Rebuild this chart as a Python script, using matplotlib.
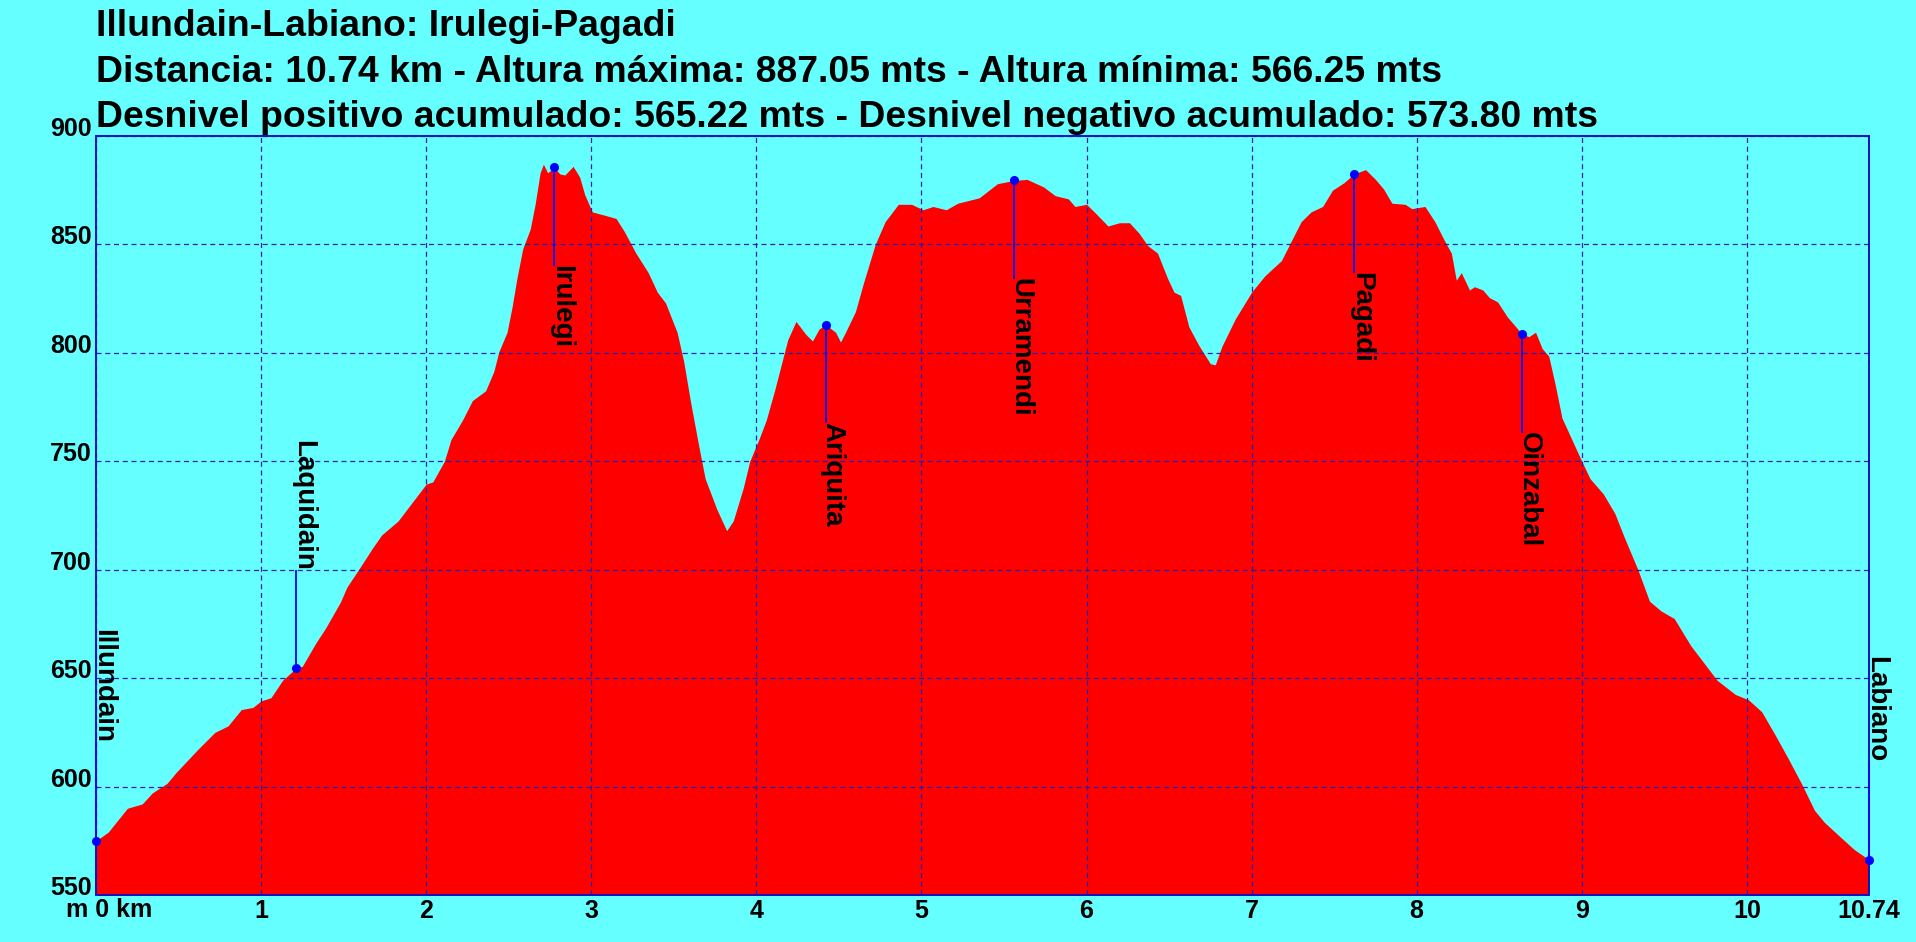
#!/usr/bin/env python3
"""Elevation profile: Illundain-Labiano, Irulegi-Pagadi."""

import matplotlib
matplotlib.use('Agg')
import matplotlib.pyplot as plt

# Track profile (km, metres)
distance_km = [
    0, 0.074, 0.19, 0.28, 0.34, 0.43, 0.485, 0.615, 0.72, 0.80, 0.88, 0.95,
    1.0, 1.06, 1.13, 1.21, 1.25, 1.33, 1.39, 1.48, 1.52, 1.59, 1.675, 1.73,
    1.83, 1.91, 2.0, 2.04, 2.11, 2.15, 2.22, 2.28, 2.36, 2.41, 2.44, 2.49,
    2.52, 2.55, 2.585, 2.63, 2.66, 2.69, 2.71, 2.736, 2.775, 2.81, 2.84, 2.89,
    2.93, 2.96, 3.006, 3.08, 3.15, 3.2, 3.27, 3.345, 3.40, 3.45, 3.52, 3.56,
    3.60, 3.65, 3.69, 3.76, 3.82, 3.86, 3.92, 3.96, 4.015, 4.06, 4.11, 4.19,
    4.24, 4.30, 4.34, 4.38, 4.42, 4.48, 4.51, 4.54, 4.60, 4.65, 4.72, 4.78,
    4.86, 4.94, 5.01, 5.07, 5.15, 5.22, 5.35, 5.46, 5.56, 5.64, 5.74, 5.81,
    5.89, 5.93, 6.0, 6.06, 6.13, 6.2, 6.26, 6.32, 6.37, 6.43, 6.49, 6.53,
    6.57, 6.62, 6.68, 6.75, 6.78, 6.82, 6.90, 7.0, 7.08, 7.18, 7.24, 7.30,
    7.36, 7.43, 7.49, 7.56, 7.62, 7.69, 7.75, 7.80, 7.85, 7.93, 7.97, 8.05,
    8.11, 8.17, 8.21, 8.24, 8.27, 8.32, 8.35, 8.40, 8.44, 8.49, 8.55, 8.64,
    8.68, 8.72, 8.76, 8.80, 8.84, 8.88, 8.94, 9.0, 9.05, 9.13, 9.20, 9.26,
    9.34, 9.41, 9.48, 9.56, 9.66, 9.74, 9.82, 9.93, 10.01, 10.09, 10.17,
    10.25, 10.33, 10.41, 10.47, 10.57, 10.65, 10.74,
]
elevation_m = [
    575, 579, 590, 592, 597, 601.5, 606.5, 617, 625, 628, 635.5, 636.5,
    639.5, 641, 649, 654.5, 655.5, 666, 673, 685, 692, 700, 710, 716,
    722.5, 730.5, 739.5, 740.5, 750, 760, 769, 778, 782.5, 791.5, 800.5, 809.5,
    821, 834.5, 848, 857, 868.5, 883, 887, 883, 885.5, 882.5, 882, 886,
    881, 873, 865, 863.5, 862, 856, 846, 837, 828, 823, 809.5, 796,
    778, 757.5, 742, 728, 718, 722.5, 737.5, 750, 760, 769, 782.5, 806,
    814.5, 808.5, 805.5, 811, 813, 809.5, 805, 809.5, 819, 832.5, 850, 860.5,
    868.5, 868.5, 866, 867.5, 866, 869, 871.5, 878, 879.5, 880, 876.5, 872.5,
    871, 867.5, 868.5, 864, 858.5, 860, 860, 855, 849.5, 846, 834.5, 828,
    826.5, 812, 803.5, 795, 794.5, 803, 815.5, 828, 835.5, 842.5, 851.5, 860.5,
    865, 867.5, 875, 878.5, 882.5, 884.5, 880, 875.5, 869, 868.5, 866.5, 867.5,
    860.5, 851.5, 846, 833.5, 837, 829, 830.5, 829, 825.5, 823.5, 816.5, 808.5,
    807.5, 809.5, 802, 798.5, 785, 770, 760, 750, 742, 735, 726, 714.5,
    700, 685.5, 681, 677.5, 665, 657, 649, 642.5, 640, 634.5, 624,
    613, 601.5, 589, 583.5, 576.5, 571, 566.25,
]

# Waypoints
wp_names = ['Illundain', 'Laquidain', 'Irulegi', 'Ariquita',
            'Urramendi', 'Pagadi', 'Oinzabal', 'Labiano']
wp_km = [0, 1.21, 2.775, 4.42, 5.56, 7.62, 8.64, 10.74]
wp_elev = [575, 654.5, 885.5, 813, 879.5, 882.5, 808.5, 566.25]

x_ticks = [0, 1, 2, 3, 4, 5, 6, 7, 8, 9, 10, 10.74]
x_labels = ['', '1', '2', '3', '4', '5', '6', '7', '8', '9', '10', '10.74']
y_ticks = [550, 600, 650, 700, 750, 800, 850, 900]

title_lines = [
    'Illundain-Labiano: Irulegi-Pagadi',
    'Distancia: 10.74 km - Altura máxima: 887.05 mts - Altura mínima: 566.25 mts',
    'Desnivel positivo acumulado: 565.22 mts - Desnivel negativo acumulado: 573.80 mts',
]

BG = '#66ffff'
BLUE = '#0000ff'
GRID = '#2020b0'

plt.rcParams['font.family'] = ['Liberation Sans', 'DejaVu Sans']
plt.rcParams['font.weight'] = 'bold'

W, H = 1916, 942
fig = plt.figure(figsize=(W / 100, H / 100), dpi=100, facecolor=BG)
ax = fig.add_axes([96 / W, 1 - 895 / H, (1869 - 96) / W, (895 - 136) / H])
ax.set_facecolor(BG)

ax.fill_between(distance_km, 550, elevation_m, color='#ff0000', linewidth=0, zorder=1)

ax.set_xlim(0, 10.74)
ax.set_ylim(550, 900)
ax.set_xticks(x_ticks)
ax.set_xticklabels(x_labels)
ax.set_yticks(y_ticks)
ax.tick_params(length=0, labelsize=18)
ax.tick_params(axis='x', pad=3)
ax.tick_params(axis='y', pad=3)
for lab in ax.get_yticklabels():
    lab.set_verticalalignment('baseline')
    lab.set_fontweight('bold')
for lab in ax.get_xticklabels():
    lab.set_fontweight('bold')

ax.set_axisbelow(False)
ax.grid(True, color=GRID, linewidth=0.9, linestyle=(0, (4, 3)), zorder=2)
for sp in ax.spines.values():
    sp.set_color('#1010c0')
    sp.set_linewidth(1.4)
    sp.set_zorder(4)

# units label under the origin
ax.annotate('m 0 km', xy=(0, 0), xycoords=('data', 'axes fraction'),
            xytext=(9.5, -2.5), textcoords='offset points',
            ha='center', va='top', fontsize=18, fontweight='bold')

# waypoints: marker, leader line and vertical name
offset = 45
for name, x, y in zip(wp_names, wp_km, wp_elev):
    if y < 725:
        y_end, ha = y + offset, 'right'
    else:
        y_end, ha = y - offset, 'left'
    ax.plot([x, x], [y, y_end], color=BLUE, linewidth=1.3, zorder=5, clip_on=False)
    ax.plot(x, y, 'o', color=BLUE, markersize=5.5, zorder=6, clip_on=False)
    ax.text(x, y_end, name, rotation=270, rotation_mode='anchor',
            ha=ha, va='baseline', fontsize=20, fontweight='bold', zorder=7)

baselines = [36, 82, 127]
for txt, yb in zip(title_lines, baselines):
    fig.text(96 / W, 1 - yb / H, txt, ha='left', va='baseline',
             fontsize=26.9, fontweight='bold')

fig.savefig('out.png', dpi=100, facecolor=BG)
